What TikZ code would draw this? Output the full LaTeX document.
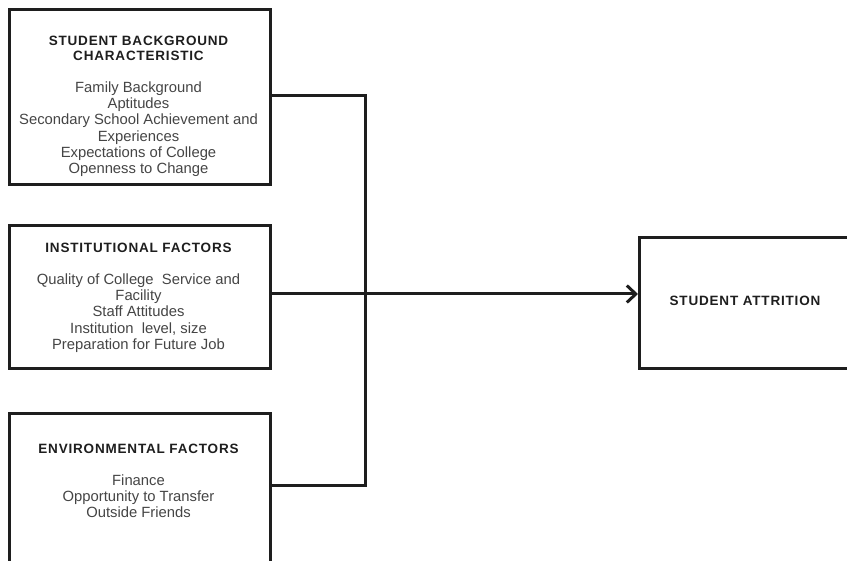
\documentclass[tikz,border=0pt]{standalone}
\usepackage{fontspec}
\setmainfont{Liberation Sans}
\usetikzlibrary{arrows.meta}
\definecolor{ink}{HTML}{1E1E1E}
\definecolor{bodyc}{HTML}{454545}
\begin{document}
\begin{tikzpicture}[x=1pt,y=-1pt,
  boxst/.style={draw=ink, line width=2.6pt, fill=white, inner sep=0pt, anchor=north west},
  titlest/.style={font=\fontsize{13.5}{15}\selectfont\bfseries\addfontfeatures{LetterSpace=6}, text=ink, align=center, inner sep=0pt, anchor=north},
  bodyst/.style={font=\fontsize{14.8}{16.2}\selectfont, text=bodyc, align=center, inner sep=0pt, anchor=north},
  conn/.style={draw=ink, line width=3pt}]
\useasboundingbox (0,0) rectangle (847,561);
\begin{scope}
\clip (0,0) rectangle (847,561);
\node[boxst, minimum width=261pt, minimum height=175pt] (b1) at (8,8) {};
\node[boxst, minimum width=261pt, minimum height=143pt] (b2) at (8,224) {};
\node[boxst, minimum width=261pt, minimum height=170pt] (b3) at (8,412) {};
\node[boxst, minimum width=226pt, minimum height=131pt] (b4) at (638,236) {};
\end{scope}
% texts
\node[titlest] (t1) at (138.5,35.5) {STUDENT BACKGROUND\\CHARACTERISTIC};
\node[bodyst] (x1) at (138.5,81.5) {Family Background\\Aptitudes\\Secondary School Achievement and\\Experiences\\Expectations of College\\Openness to Change};
\node[titlest] (t2) at (138.5,243) {INSTITUTIONAL FACTORS};
\node[bodyst] (x2) at (138.5,273.5) {Quality of College\ \ Service and\\Facility\\Staff Attitudes\\Institution\ \ level, size\\Preparation for Future Job};
\node[titlest] (t3) at (138.5,444) {ENVIRONMENTAL FACTORS};
\node[bodyst] (x3) at (138.5,474.5) {Finance\\Opportunity to Transfer\\Outside Friends};
\node[titlest, anchor=center] (t4) at (745,301) {STUDENT ATTRITION};
% connectors
\coordinate (jx) at (365,0);
\coordinate (b3c) at (269,486);
\draw[conn] (b1.east |- 0,96) -| (jx |- b3c) -- (b3c);
\draw[conn, -{Straight Barb[length=9pt,width=17pt,line width=3pt]}] (b2.east |- 0,294) -- (b4.west |- 0,294);
\end{tikzpicture}
\end{document}
